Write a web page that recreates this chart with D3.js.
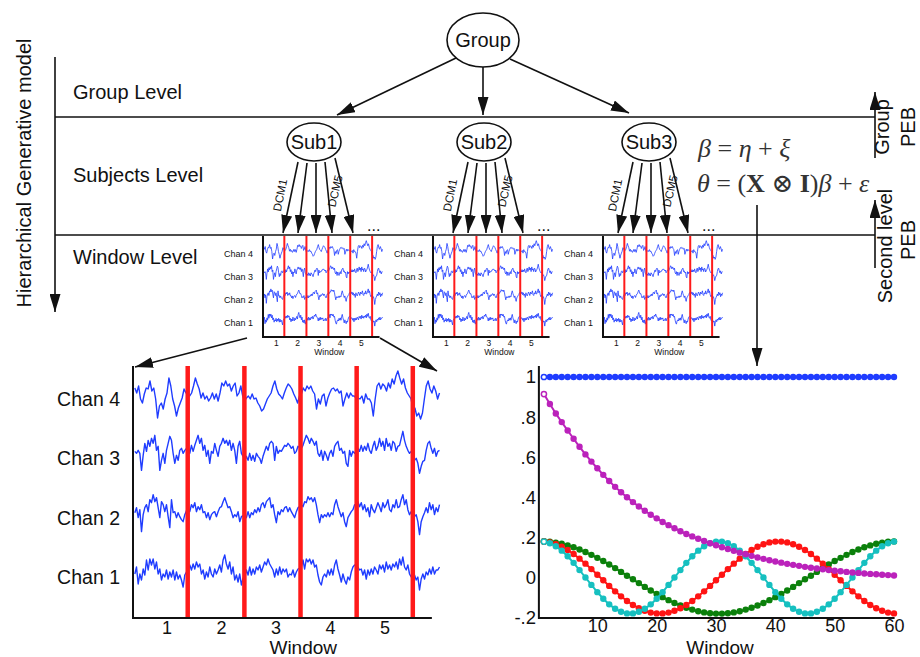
<!DOCTYPE html>
<html>
<head>
<meta charset="utf-8">
<script src="https://cdn.jsdelivr.net/npm/d3@7"></script>
<style>
  body { margin: 0; background: #fff; }
  svg { display: block; }
  text { font-family: "Liberation Sans", Arial, sans-serif; fill: #111; }
</style>
</head>
<body>
<svg id="fig" width="920" height="657"></svg>
<script>
// ---- data ----
const windows = [1, 2, 3, 4, 5];
const windowEdges = [1.38, 2.42, 3.45, 4.48, 5.51];
const channels = ["Chan 1", "Chan 2", "Chan 3", "Chan 4"];

// channel traces (amplitude)
const chan1 = [-2,5,-12,-2,-8,3,-3,12,2,13,7,13,3,10,-2,3,-8,-2,-5,2,-7,0,-5,2,-8,0,-7,-3,-8,-15,
  -3,0,2,7,2,8,3,10,5,8,-2,2,-7,0,-5,5,-2,-5,3,-2,2,7,0,12,17,8,3,10,-2,5,-8,-3,-10,-2,-13,-6,-5,2,-3,5,
  -3,3,-2,5,2,7,0,5,10,7,13,8,5,2,-5,3,-3,5,-2,3,0,3,-5,-2,
  -3,2,-5,0,3,4,5,12,3,13,10,13,8,12,5,7,-3,-10,-13,-5,-2,-5,2,-3,3,-3,7,12,3,-3,
  -10,-2,-8,-12,-5,-8,0,5,7,6,5,2,3,-3,2,-7,2,-3,3,-2,5,2,-2,7,3,7,0,10,3,7,
  2,8,5,10,3,13,7,15,5,2,7,-2,-5,-4,-3,-8,-5,-18,-7,-2,-7,0,-3,3,-2,5,-2,2,2,5];
const chan2 = [0,5,-5,3,-19,-2,5,8,1,13,10,18,11,15,5,-5,11,8,1,8,-4,-15,13,0,1,-5,0,-4,-7,-9,
  -2,2,5,1,8,5,10,1,6,3,8,0,1,-5,0,-7,-2,0,1,-4,1,5,6,11,15,10,5,6,1,-5,-2,-4,1,-9,-4,-3,-2,-5,1,-5,
  0,-2,3,0,5,1,8,10,5,11,13,15,5,8,-2,-10,1,-2,3,1,5,6,1,5,
  1,-2,-5,1,5,6,8,6,11,10,16,13,15,11,15,8,-2,-10,-2,-5,-2,-4,0,-4,0,-2,8,13,6,1,
  -4,0,-9,-14,-5,-2,1,3,8,8,11,6,10,3,8,1,5,-4,8,3,0,5,10,6,1,10,5,8,13,3,
  1,8,5,13,5,6,13,18,8,13,3,-2,1,-2,-4,-2,-9,-22,-9,-4,0,5,0,10,3,8,-2,5,1,8];
const chan3 = [2,0,3,0,-17,-2,10,2,13,7,15,10,18,3,7,-17,-7,0,-10,3,10,17,13,0,-10,-2,-7,3,5,0,
  3,5,7,0,8,2,8,13,18,10,15,3,8,-3,3,-10,2,0,10,3,-3,7,10,15,10,13,8,13,3,10,3,-10,7,12,0,-3,-7,-3,-7,0,-7,-2,
  -8,0,-3,-5,-10,-3,2,7,3,10,12,10,-7,7,0,3,2,5,8,7,10,8,
  5,7,0,2,7,6,5,8,13,18,15,10,15,12,8,12,0,-3,3,-7,2,-2,-7,0,3,-3,7,10,12,3,5,0,2,-10,-13,3,-3,2,0,3,
  5,2,8,2,7,3,10,3,0,7,12,3,7,15,7,12,3,15,7,10,3,12,10,2,7,8,15,22,13,7,3,0,2,-2,
  -7,-5,-10,-20,-13,-8,-7,3,10,12,5,0,5,-3,2,3];
const chan4 = [6,1,8,-5,-9,0,6,5,13,3,6,-5,-24,-12,-9,-15,-5,1,16,8,-5,-12,-22,-14,-9,-4,5,1,1,-2,
  1,8,16,10,5,-4,1,-5,-2,-7,-4,1,-5,0,-7,1,11,8,13,8,10,3,8,11,-2,1,8,-2,-7,-4,
  -2,-5,0,-5,-4,-9,-12,-17,-15,-10,-5,-2,1,8,13,5,0,-2,-5,1,6,10,8,
  5,0,-4,-9,-2,0,6,3,8,5,8,3,0,-15,-5,-10,-2,0,-12,-4,1,5,6,3,5,1,3,-12,-5,1,
  -4,1,-2,-2,-5,-4,-5,-2,-9,0,-5,-5,-9,-22,-5,8,11,5,10,8,3,11,6,15,10,18,23,16,10,15,
  6,1,-2,-5,-15,-14,-22,-19,-25,-19,-5,8,13,5,1,8,3,-5,1];
const traces = [chan1, chan2, chan3, chan4];

// second level design matrix columns, windows 1..60
const meanTerm = [1,1,1,1,1,1,1,1,1,1,1,1,1,1,1,1,1,1,1,1,1,1,1,1,1,1,1,1,1,1,
  1,1,1,1,1,1,1,1,1,1,1,1,1,1,1,1,1,1,1,1,1,1,1,1,1,1,1,1,1,1];
const decayTerm = [.915,.865,.818,.775,.733,.692,.652,.614,.578,.545,.512,.481,.452,.425,.400,
  .376,.354,.333,.313,.295,.277,.261,.246,.231,.217,.205,.193,.182,.171,.161,
  .151,.142,.133,.124,.116,.108,.100,.093,.086,.080,.074,.068,.063,.058,.053,
  .049,.045,.041,.037,.034,.031,.028,.025,.023,.020,.018,.016,.014,.012,.010];
const cosTerm2 = [.180,.178,.174,.168,.160,.151,.140,.127,.113,.098,.082,.065,.047,.028,.009,
  -.009,-.028,-.047,-.065,-.082,-.098,-.113,-.127,-.140,-.151,-.160,-.168,-.174,-.178,-.180,
  -.180,-.178,-.174,-.168,-.160,-.151,-.140,-.127,-.113,-.098,-.082,-.065,-.047,-.028,-.009,
  .009,.028,.047,.065,.082,.098,.113,.127,.140,.151,.160,.168,.174,.178,.180];
const cosTerm3 = [.179,.175,.166,.153,.137,.117,.094,.069,.042,.014,
  -.014,-.042,-.069,-.094,-.117,-.137,-.153,-.166,-.175,-.179,
  -.179,-.175,-.166,-.153,-.137,-.117,-.094,-.069,-.042,-.014,
  .014,.042,.069,.094,.117,.137,.153,.166,.175,.179,
  .179,.175,.166,.153,.137,.117,.094,.069,.042,.014,
  -.014,-.042,-.069,-.094,-.117,-.137,-.153,-.166,-.175,-.179];
const cosTerm4 = [.179,.171,.156,.134,.106,.073,.037,0,-.037,-.073,-.106,-.134,-.156,-.171,-.179,
  -.179,-.171,-.156,-.134,-.106,-.073,-.037,0,.037,.073,.106,.134,.156,.171,.179,
  .179,.171,.156,.134,.106,.073,.037,0,-.037,-.073,-.106,-.134,-.156,-.171,-.179,
  -.179,-.171,-.156,-.134,-.106,-.073,-.037,0,.037,.073,.106,.134,.156,.171,.179];
const yTicks = [1, .8, .6, .4, .2, 0, -.2];
const yTickLabels = ["1", ".8", ".6", ".4", ".2", "0", "-.2"];
const xTicks = [10, 20, 30, 40, 50, 60];

const ink = "#111";
const traceBlue = "#1f3cff";
const svg = d3.select("#fig");

// arrow head
svg.append("defs").append("marker")
  .attr("id", "arr").attr("viewBox", "0 0 18 11")
  .attr("refX", 18).attr("refY", 5.5)
  .attr("markerWidth", 18).attr("markerHeight", 11)
  .attr("markerUnits", "userSpaceOnUse").attr("orient", "auto")
  .append("path").attr("d", "M0,0L18,5.5L0,11Z").attr("fill", ink);

function arrow(x1, y1, x2, y2) {
  svg.append("line")
    .attr("x1", x1).attr("y1", y1).attr("x2", x2).attr("y2", y2)
    .attr("stroke", ink).attr("stroke-width", 1.6)
    .attr("marker-end", "url(#arr)");
}
function hline(y, x1, x2) {
  svg.append("line").attr("x1", x1).attr("x2", x2).attr("y1", y).attr("y2", y)
    .attr("stroke", ink).attr("stroke-width", 1.6);
}
function label(txt, x, y, size, anchor) {
  return svg.append("text").attr("x", x).attr("y", y)
    .attr("font-size", size).attr("text-anchor", anchor || "start").text(txt);
}
function rotLabel(txt, x, y, size, angle) {
  return svg.append("text")
    .attr("transform", `translate(${x},${y}) rotate(${angle})`)
    .attr("font-size", size).attr("text-anchor", "middle").text(txt);
}

// ---- levels ----
svg.append("line").attr("x1", 55).attr("x2", 55).attr("y1", 57).attr("y2", 240)
  .attr("stroke", ink).attr("stroke-width", 1.6);
arrow(55, 240, 55, 312);
hline(117, 55, 875);
hline(235, 55, 875);
rotLabel("Hierarchical Generative model", 31, 173, 20, -90);
label("Group Level", 73, 99, 20);
label("Subjects Level", 73, 182, 20);
label("Window Level", 73, 264, 20);

// group node
svg.append("ellipse").attr("cx", 483).attr("cy", 40).attr("rx", 36).attr("ry", 27)
  .attr("fill", "#fff").attr("stroke", ink).attr("stroke-width", 1.6);
label("Group", 483, 47, 20, "middle");
arrow(456, 58, 337, 115);
arrow(483, 67, 483, 115);
arrow(510, 59, 629, 113);

// subject nodes with DCM arrows
const subX = [314, 484, 649];
const dcmFrom = [[-16, 20], [-7, 21], [2, 21], [11, 20], [21, 16]];
const dcmTo = [[-31, 91], [-16, 91], [2, 91], [18, 91], [39, 91]];
subX.forEach((cx, k) => {
  dcmFrom.forEach((f, i) => arrow(cx + f[0], 142 + f[1], cx + dcmTo[i][0], 142 + dcmTo[i][1]));
  svg.append("ellipse").attr("cx", cx).attr("cy", 142).attr("rx", 27).attr("ry", 19)
    .attr("fill", "#fff").attr("stroke", ink).attr("stroke-width", 1.6);
  label("Sub" + (k + 1), cx, 149, 20, "middle");
  rotLabel("DCM1", cx - 30, 196, 11.5, -78.6);
  rotLabel("DCM5", cx + 25, 192, 11.5, -76.5);
  label("...", cx + 53, 231, 16);
});

// equations
const serif = "'Liberation Serif','DejaVu Serif',serif";
const eq1 = svg.append("text").attr("x", 698).attr("y", 157)
  .attr("font-size", 26).style("font-family", serif);
[["β", 1], [" = ", 0], ["η", 1], [" + ", 0], ["ξ", 1]].forEach(([t, it]) =>
  eq1.append("tspan").text(t).style("font-style", it ? "italic" : "normal").style("fill", "#333"));
const eq2 = svg.append("text").attr("x", 697).attr("y", 192)
  .attr("font-size", 26).style("font-family", serif);
[["θ", 1], [" = (", 0], ["X", 2], [" ⊗ ", 0], ["I", 2], [")", 0], ["β", 1], [" + ", 0], ["ε", 1]]
  .forEach(([t, it]) => eq2.append("tspan").text(t)
    .style("font-style", it === 1 ? "italic" : "normal")
    .style("font-weight", it === 2 ? "bold" : "normal").style("fill", "#333"));
svg.append("line").attr("x1", 757).attr("x2", 757).attr("y1", 205).attr("y2", 240)
  .attr("stroke", ink).attr("stroke-width", 1.6);
arrow(757, 240, 757, 366);

// PEB labels
arrow(875, 158, 875, 92);
arrow(875, 268, 875, 200);
rotLabel("Group", 889, 127, 20, -90);
rotLabel("PEB", 915, 127, 20, -90);
rotLabel("Second level", 892, 246, 20, -90);
rotLabel("PEB", 915, 240, 20, -90);

// ---- EEG panels ----
function eegPanel(ox, oy, p) {
  const g = svg.append("g").attr("transform", `translate(${ox},${oy})`);
  const s = p.s;
  const wx = d3.scaleLinear().domain([0, 6]).range([-20.5 * s, 306.5 * s]);
  const cy = d3.scalePoint().domain(channels).range([-46 * s, -224 * s]);
  const amp = d3.scaleLinear().domain([-30, 30]).range([30 * s, -30 * s]);

  channels.forEach((ch, k) => {
    const vals = traces[k];
    const sx = d3.scaleLinear().domain([0, vals.length - 1]).range([wx(0.41), wx(6.0)]);
    const line = d3.line().x((d, i) => sx(i)).y(d => cy(ch) + amp(d));
    g.append("path").attr("d", line(vals)).attr("fill", "none")
      .attr("stroke", traceBlue).attr("stroke-width", p.traceW).attr("stroke-linejoin", "round");
  });

  g.selectAll(".edge").data(windowEdges).join("line")
    .attr("x1", d => wx(d)).attr("x2", d => wx(d))
    .attr("y1", p.top).attr("y2", 0)
    .attr("stroke", "#ff1a1a").attr("stroke-width", p.redW);

  g.append("path").attr("d", `M0,${p.top}V0H${wx(5.86)}`)
    .attr("fill", "none").attr("stroke", ink).attr("stroke-width", p.axisW);

  g.selectAll(".chan").data(channels).join("text")
    .attr("x", -p.gap).attr("y", d => cy(d) + p.chanDy)
    .attr("dominant-baseline", "central").attr("text-anchor", "end")
    .attr("font-size", p.font).text(d => d);

  g.selectAll(".wtick").data(windows).join("text")
    .attr("x", d => wx(d)).attr("y", p.tickY)
    .attr("text-anchor", "middle").attr("font-size", p.tickFont).text(d => d);

  g.append("text").attr("x", wx(3.5)).attr("y", p.titleY)
    .attr("text-anchor", "middle").attr("font-size", p.titleFont).text("Window");
}

const insetStyle = { s: 0.39, top: -101, traceW: 0.8, redW: 2, axisW: 2, gap: 10, chanDy: 4,
  font: 9, tickY: 9, tickFont: 8.5, titleY: 18, titleFont: 8.5 };
[263, 433, 603].forEach(x0 => eegPanel(x0, 337, insetStyle));
eegPanel(133, 618, { s: 1, top: -252, traceW: 1.4, redW: 4.5, axisW: 2, gap: 13, chanDy: 5,
  font: 19.5, tickY: 15.5, tickFont: 18, titleY: 36, titleFont: 19 });

arrow(247, 338, 135, 367);
arrow(380, 338, 437, 371);

// ---- second level regressors ----
const px = d3.scaleLinear().domain([0, 60]).range([538, 894]);
const py = d3.scaleLinear().domain([-0.2, 1]).range([617.6, 377]);
const winIdx = d3.range(1, 61);
const series = [
  { v: meanTerm, c: "#1f3cff" },
  { v: cosTerm2, c: "#0b800b" },
  { v: cosTerm3, c: "#ff1414" },
  { v: cosTerm4, c: "#16c0c0" },
  { v: decayTerm, c: "#bb22bb" }
];
const reg = svg.append("g");
series.forEach(sr => {
  const line = d3.line().x((d, i) => px(winIdx[i])).y(d => py(d));
  reg.append("path").attr("d", line(sr.v)).attr("fill", "none")
    .attr("stroke", sr.c).attr("stroke-width", 2);
  reg.append("g").selectAll("circle").data(sr.v).join("circle")
    .attr("cx", (d, i) => px(winIdx[i])).attr("cy", d => py(d))
    .attr("r", (d, i) => i === 0 ? 2.6 : 3.2)
    .attr("fill", (d, i) => i === 0 ? "#fff" : sr.c)
    .attr("stroke", sr.c).attr("stroke-width", (d, i) => i === 0 ? 1.5 : 0);
});

svg.append("path").attr("d", `M${px(0.15)},366V618H${px(60.1)}`)
  .attr("fill", "none").attr("stroke", ink).attr("stroke-width", 2);

const yAxis = svg.append("g").attr("transform", "translate(536,0)")
  .call(d3.axisLeft(py).tickValues(yTicks).tickSize(0).tickPadding(0)
    .tickFormat((d, i) => yTickLabels[i]));
yAxis.select(".domain").remove();
yAxis.selectAll("text").attr("font-size", 18.5).attr("font-family", null).attr("fill", ink);

const xAxis = svg.append("g").attr("transform", "translate(0,618)")
  .call(d3.axisBottom(px).tickValues(xTicks).tickSize(0).tickPadding(1));
xAxis.select(".domain").remove();
xAxis.selectAll("text").attr("font-size", 18).attr("font-family", null).attr("fill", ink);

label("Window", 720, 654, 19, "middle");
</script>
</body>
</html>
